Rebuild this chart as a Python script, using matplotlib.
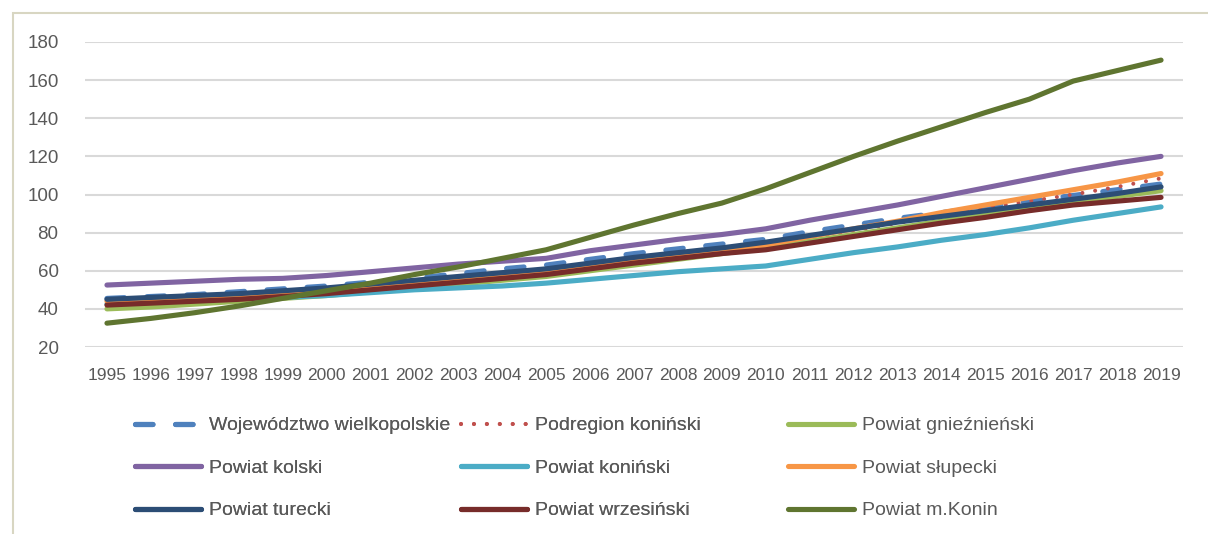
import matplotlib
matplotlib.use("Agg")

import matplotlib.pyplot as plt
from matplotlib.patches import Rectangle

plt.rcParams['font.family'] = ['Liberation Sans', 'DejaVu Sans']

YEARS = [str(y) for y in range(1995, 2020)]

WOJEWODZTWO = [45.5, 46.5, 47.5, 49, 50.5, 52, 54, 56, 58.5, 61, 63, 66, 69, 71.5, 74,
               76.5, 80.5, 84, 87.5, 90.5, 93.5, 96.5, 99.5, 102.5, 105.5]
PODREGION = [43, 44, 45, 46, 47.5, 49, 51, 53, 55, 57, 59, 62, 65, 68, 70.5,
             73, 77, 81, 85, 89, 93, 96.5, 100, 104, 108.5]
GNIEZNIENSKI = [40, 41, 42.5, 44, 45.5, 47, 49, 51, 53, 55, 57, 60, 63, 66, 69,
                72, 75.5, 79, 82.5, 86, 89.5, 93, 96, 99, 102]
KOLSKI = [52.5, 53.5, 54.5, 55.5, 56, 57.5, 59.5, 61.5, 63.5, 65, 66.5, 70.5, 73.5, 76.5, 79,
          82, 86.5, 90.5, 94.5, 99, 103.5, 108, 112.5, 116.5, 120]
KONINSKI = [42.5, 43.5, 44.5, 45.5, 46, 47, 48.5, 50, 51, 52, 53.5, 55.5, 57.5, 59.5, 61,
            62.5, 66, 69.5, 72.5, 76, 79, 82.5, 86.5, 90, 93.5]
SLUPECKI = [44, 45, 46, 47, 48, 49.5, 51.5, 53.5, 55.5, 57.5, 59.5, 62.5, 65.5, 68.5, 71,
            73.5, 78, 82, 86, 90.5, 94.5, 98.5, 102.5, 106.5, 111]
TURECKI = [45, 46, 47, 48, 49.5, 51, 53, 55, 57, 59, 61, 64, 67, 69.5, 72,
           75, 78.5, 82, 85.5, 88.5, 91.5, 94.5, 97.5, 100.5, 104]
WRZESINSKI = [42, 43, 44, 45, 46.5, 48, 50, 52, 54, 56, 58, 61, 64, 66.5, 69,
              71, 74.5, 78, 81.5, 85, 88, 91.5, 94.5, 96.5, 98.5]
KONIN = [32.5, 35, 38, 41.5, 45.5, 49.5, 53.5, 58, 62, 66.5, 71, 77.5, 84, 90, 95.5,
         103, 111.5, 120, 128, 135.5, 143, 150, 159.5, 165, 170.5]

LABELS = ['Województwo wielkopolskie', 'Podregion koniński', 'Powiat gnieźnieński',
          'Powiat kolski', 'Powiat koniński', 'Powiat słupecki',
          'Powiat turecki', 'Powiat wrzesiński', 'Powiat m.Konin']
SERIES = [WOJEWODZTWO, PODREGION, GNIEZNIENSKI, KOLSKI, KONINSKI, SLUPECKI,
          TURECKI, WRZESINSKI, KONIN]
COLORS = ['#4F81BD', '#C0504D', '#9BBB59', '#8064A2', '#4BACC6', '#F79646',
          '#2C4D75', '#772C2A', '#5F7530']

W, H = 1208, 534
fig = plt.figure(figsize=(W / 100., H / 100.), dpi=100)
ax = fig.add_axes([85. / W, 1 - 347. / H, 1098. / W, 305. / H])

x = list(range(len(YEARS)))
lines = []
for i, (vals, label, color) in enumerate(zip(SERIES, LABELS, COLORS)):
  if i == 0:
    ln, = ax.plot(x, vals, color=color, lw=3.7, label=label,
                  dashes=[3.4, 4.4], dash_capstyle='round')
  elif i == 1:
    ln, = ax.plot(x, vals, color=color, lw=2.9, label=label,
                  dashes=[0.01, 3.2], dash_capstyle='round')
  else:
    ln, = ax.plot(x, vals, color=color, lw=3.7, label=label,
                  solid_capstyle='round')
  lines.append(ln)

ax.set_xlim(-0.5, len(YEARS) - 0.5)
ax.set_ylim(20, 180)
ax.set_yticks(range(20, 181, 20))
ax.set_xticks(x)
ax.set_xticklabels(YEARS)
ax.grid(axis='y', color='#D9D9D9', lw=1.5)
ax.set_axisbelow(True)
for s in ax.spines.values():
  s.set_visible(False)
ax.tick_params(length=0, colors='#595959', labelsize=12.5)
ax.tick_params(axis='y', pad=19, labelsize=13.5)
ax.tick_params(axis='x', pad=15)

# legend: three equal-width columns, like the spreadsheet layout
col_x = [127., 453., 780.]
for c in range(3):
  leg = fig.legend(handles=[lines[c], lines[c + 3], lines[c + 6]],
                   loc='upper left', bbox_to_anchor=(col_x[c] / W, 1 - 409. / H),
                   frameon=False, fontsize=14, handlelength=3.4,
                   handletextpad=0.4, labelspacing=1.28, borderaxespad=0)
  for t in leg.get_texts():
    t.set_color('#595959')
  if c < 2:
    fig.add_artist(leg)

fig.add_artist(Rectangle((13. / W, -0.05), 1.2, 1 - 13. / H + 0.05,
                         transform=fig.transFigure, fill=False,
                         edgecolor='#D8D6C2', lw=1.5, clip_on=False))

fig.savefig('out.png', dpi=100)
